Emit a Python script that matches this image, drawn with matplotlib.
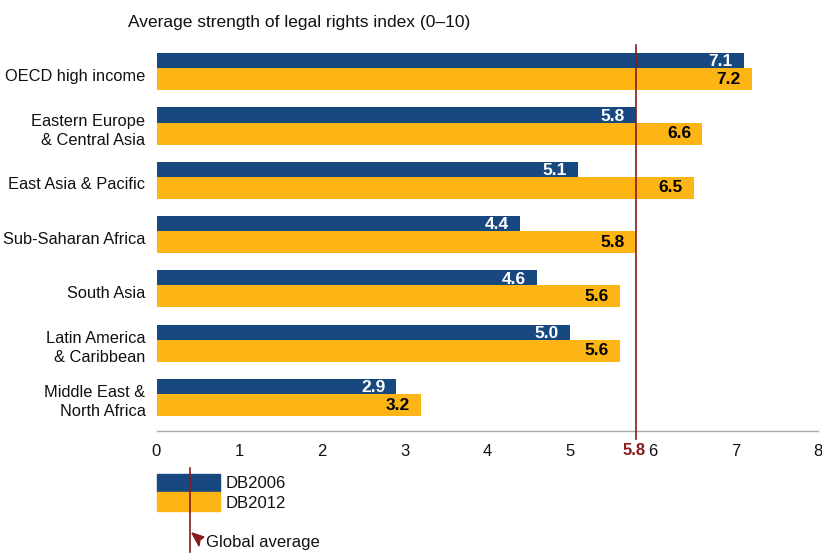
import numpy as np
import matplotlib.pyplot as plt
from matplotlib.patches import Rectangle, Polygon

plt.rcParams['font.family'] = ['Liberation Sans', 'DejaVu Sans']

regions = ["OECD high income", "Eastern Europe\n& Central Asia", "East Asia & Pacific",
           "Sub-Saharan Africa", "South Asia", "Latin America\n& Caribbean",
           "Middle East &\nNorth Africa"]
db2006 = [7.1, 5.8, 5.1, 4.4, 4.6, 5.0, 2.9]
db2012 = [7.2, 6.6, 6.5, 5.8, 5.6, 5.6, 3.2]
global_avg = 5.8
xticks = [0, 1, 2, 3, 4, 5, 6, 7, 8]

blue = "#17487F"
yellow = "#FDB515"
red = "#8B1A1A"

fig = plt.figure(figsize=(8.22, 5.54), dpi=100)
ax = fig.add_axes([156.5 / 822, 123 / 554, 661.5 / 822, 386 / 554])

# bar geometry (group pitch = 1, y increases downward)
hb, hy = 0.28, 0.405
y = np.arange(len(regions))
ax.barh(y, db2006, height=hb, align="edge", color=blue)
ax.barh(y + hb, db2012, height=hy, align="edge", color=yellow)

for i in range(len(regions)):
    ax.annotate(f"{db2006[i]:.1f}", (db2006[i], y[i] + hb / 2), xytext=(-8, -1),
                textcoords="offset points", ha="right", va="center",
                color="white", fontsize=12.5, fontweight="bold")
    ax.annotate(f"{db2012[i]:.1f}", (db2012[i], y[i] + hb + hy / 2), xytext=(-8, 0),
                textcoords="offset points", ha="right", va="center",
                color="black", fontsize=12.5, fontweight="bold")
    ax.annotate(regions[i], (0, y[i] + 0.43), xytext=(-8, 0), textcoords="offset points",
                ha="right", va="center", multialignment="right", linespacing=1.35,
                fontsize=11.8, color="#111111", annotation_clip=False)

ax.axvline(global_avg, ymin=-0.022, ymax=1, color=red, lw=1.2, clip_on=False, zorder=5)

ax.set_xlim(0, 8)
ax.set_ylim(6.96, -0.147)
ax.set_yticks([])
ax.set_xticks(xticks)
ax.set_xticklabels([str(t) for t in xticks], fontsize=12, color="#111111")
ax.tick_params(axis="x", length=0, pad=9)
ax.text(global_avg + 0.12, -0.032, "5.8", transform=ax.get_xaxis_transform(),
        ha="right", va="top", color=red, fontsize=12, fontweight="bold")
for s in ["top", "right", "left"]:
    ax.spines[s].set_visible(False)
ax.spines["bottom"].set_color("#AAAAAA")
ax.spines["bottom"].set_linewidth(1.0)

fig.text(128 / 822, 1 - 22 / 554, "Average strength of legal rights index (0\u201310)",
         ha="left", va="center", fontsize=12.5, color="#111111")

# legend drawn in pixel space
lg = fig.add_axes([0, 0, 1, 1], zorder=-1)
lg.set_xlim(0, 822)
lg.set_ylim(554, 0)
lg.axis("off")
lg.add_patch(Rectangle((157, 474), 63, 18, color=blue))
lg.add_patch(Rectangle((157, 492), 63, 19, color=yellow))
lg.plot([190, 190], [468, 552], color=red, lw=1.2)
lg.add_patch(Polygon([[192, 533], [204, 537], [200, 540], [199, 546]], closed=True, color=red))
lg.text(226, 484, "DB2006", ha="left", va="center", fontsize=12, color="#111111")
lg.text(226, 503, "DB2012", ha="left", va="center", fontsize=12, color="#111111")
lg.text(206, 543, "Global average", ha="left", va="center", fontsize=12, color="#111111")

fig.savefig("out.png", dpi=100)
